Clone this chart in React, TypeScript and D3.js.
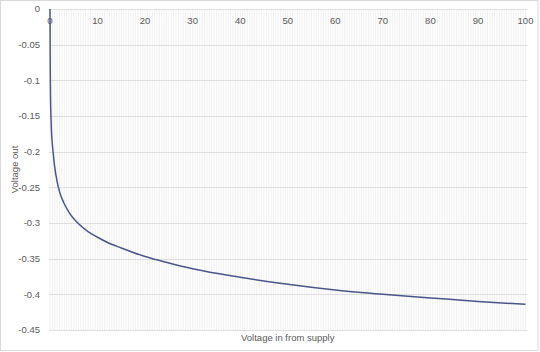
import React from 'react';
import * as d3 from 'd3';

// values
const vin = [0, 0.05, 0.1, 0.2, 0.3, 0.5, 0.75, 1, 1.5, 2, 3, 4, 5, 6, 8, 10, 12, 15, 20, 25, 30, 40, 50, 60, 70, 80, 90, 100];
const vout = [0, -0.08, -0.12, -0.15, -0.17, -0.19, -0.207, -0.222, -0.242, -0.256, -0.273, -0.285, -0.294, -0.301, -0.312, -0.32, -0.327, -0.335, -0.347, -0.356, -0.364, -0.376, -0.386, -0.394, -0.4, -0.405, -0.41, -0.414];
const xTicks = [0, 10, 20, 30, 40, 50, 60, 70, 80, 90, 100];
const yTicks = [0, -0.05, -0.1, -0.15, -0.2, -0.25, -0.3, -0.35, -0.4, -0.45];
const xTitle = 'Voltage in from supply';
const yTitle = 'Voltage out';

const W = 540;
const H = 352;
const font = "'Liberation Sans', Arial, sans-serif";

export default function App() {
  const x = d3.scaleLinear().domain([0, 100]).range([50, 525.5]);
  const y = d3.scaleLinear().domain([0, -0.45]).range([9, 330]);

  const pts: [number, number][] = vin.map((v, i) => [v, vout[i]]);
  const line = d3.line<[number, number]>()
    .x(d => x(d[0]))
    .y(d => y(d[1]))
    .curve(d3.curveMonotoneX);

  // dense vertical gridlines
  const vgrid = d3.range(0, 100.01, 0.5);

  return (
    <svg width={W} height={H} style={{ position: 'absolute', left: 0, top: 0, background: '#fff' }}>
      <rect x={0.5} y={0.5} width={537.5} height={350} fill="#fff" stroke="#d9d9d9" />
      <g>
        {vgrid.map((v, i) => (
          <line key={'v' + i} x1={x(v)} x2={x(v)} y1={y(0)} y2={y(-0.45)} stroke="#ececec" strokeWidth={0.8} />
        ))}
        {yTicks.map((t, i) => (
          <line key={'h' + i} x1={x(0) - 1} x2={x(100) + 2} y1={Math.round(y(t)) + 0.5} y2={Math.round(y(t)) + 0.5} stroke="#dedede" strokeWidth={1} />
        ))}
      </g>
      <g fontFamily={font} fontSize={9.5} fill="#595959">
        {yTicks.map((t, i) => (
          <text key={'yl' + i} x={40} y={y(t)} dy="0.35em" textAnchor="end">{t === 0 ? '0' : String(t)}</text>
        ))}
        {xTicks.map((t, i) => (
          <text key={'xl' + i} x={x(t)} y={21} dy="0.35em" textAnchor="middle">{t}</text>
        ))}
        <text x={(x(0) + x(100)) / 2} y={338} dy="0.35em" textAnchor="middle">{xTitle}</text>
        <text transform={`translate(15, ${(y(0) + y(-0.45)) / 2}) rotate(-90)`} dy="0.35em" textAnchor="middle">{yTitle}</text>
      </g>
      <path d={line(pts) || ''} fill="none" stroke="#4a5689" strokeWidth={1.5} />
    </svg>
  );
}
